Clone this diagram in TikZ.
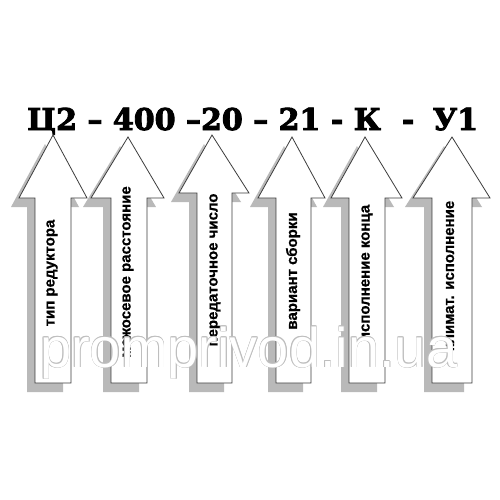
\documentclass[tikz,border=0pt]{standalone}
\usepackage{fontspec}
\setmainfont{Liberation Sans}[BoldFont={Liberation Sans Bold}, BoldFeatures={FakeBold=0.8}]
\newfontfamily\codefont{DejaVu Serif Bold}[FakeBold=3]

\definecolor{shadowgray}{RGB}{185,185,185}
\definecolor{edgegray}{RGB}{60,60,60}
\definecolor{markgray}{RGB}{190,190,190}
\pgfdeclareverticalshading{shadowfade}{100bp}{color(0bp)=(shadowgray); color(70bp)=(shadowgray); color(100bp)=(white)}

\tikzset{
  arrowbody/.style={draw=edgegray, line width=0.8pt, fill=white},
  arrowshadow/.style={shading=shadowfade, shift={(-8,9)}},
  arrowtext/.style={font=\bfseries\fontsize{15}{15}\selectfont, rotate=90, inner sep=0pt},
  codetext/.style={font=\codefont\fontsize{30}{30}\selectfont, inner sep=0pt, anchor=base west},
  marktext/.style={font=\fontsize{56}{56}\selectfont, inner sep=0pt, anchor=base west},
}

\begin{document}
\begin{tikzpicture}[x=1pt, y=-1pt]
    \useasboundingbox[fill=white] (0,0) rectangle (500,500);

    % Bezeichnung
    \node[codetext] (code) at (27,130) {Ц2 – 400 –20 – 21 - К \ - \hspace{8pt}У1};

    % Pfeil 1: тип редуктора
    \shade[arrowshadow] (35,383) -- (35,198) -- (19,198) -- (53,135) -- (87,198) -- (71,198) -- (71,383) -- cycle;
    \draw[arrowbody] (35,383) -- (35,198) -- (19,198) -- (53,135) -- (87,198) -- (71,198) -- (71,383) -- cycle;
    \node[arrowtext] (type) at (52,273) {тип редуктора};

    % Pfeil 2: межосевое расстояние
    \shade[arrowshadow] (111,383) -- (111,198) -- (91,198) -- (128,137) -- (164,198) -- (147,198) -- (147,383) -- cycle;
    \draw[arrowbody] (111,383) -- (111,198) -- (91,198) -- (128,137) -- (164,198) -- (147,198) -- (147,383) -- cycle;
    \node[arrowtext] (dist) at (128,272) {межосевое расстояние};

    % Pfeil 3: передаточное число
    \shade[arrowshadow] (197,383) -- (197,193) -- (179,193) -- (212,135) -- (249,193) -- (232,193) -- (232,383) -- cycle;
    \draw[arrowbody] (197,383) -- (197,193) -- (179,193) -- (212,135) -- (249,193) -- (232,193) -- (232,383) -- cycle;
    \node[arrowtext] (ratio) at (215,270) {передаточное число};

    % Pfeil 4: вариант сборки
    \shade[arrowshadow] (276,383) -- (276,198) -- (258,198) -- (292,137) -- (325,198) -- (311,198) -- (311,383) -- cycle;
    \draw[arrowbody] (276,383) -- (276,198) -- (258,198) -- (292,137) -- (325,198) -- (311,198) -- (311,383) -- cycle;
    \node[arrowtext] (assembly) at (293,271) {вариант сборки};

    % Pfeil 5: исполнение конца
    \shade[arrowshadow] (349,383) -- (349,198) -- (331,198) -- (365,137) -- (402,198) -- (385,198) -- (385,383) -- cycle;
    \draw[arrowbody] (349,383) -- (349,198) -- (331,198) -- (365,137) -- (402,198) -- (385,198) -- (385,383) -- cycle;
    \node[arrowtext] (shaftend) at (367,273) {исполнение конца};

    % Pfeil 6: климат. исполнение
    \shade[arrowshadow] (432,383) -- (432,198) -- (413,198) -- (452,137) -- (490,198) -- (472,198) -- (472,383) -- cycle;
    \draw[arrowbody] (432,383) -- (432,198) -- (413,198) -- (452,137) -- (490,198) -- (472,198) -- (472,383) -- cycle;
    \node[arrowtext] (climate) at (450,276) {климат. исполнение};

    % Wasserzeichen
    \foreach \dx/\dy [count=\i] in {0.7/0, -0.7/0, 0/0.7, 0/-0.7, 0.5/0.5, -0.5/0.5, 0.5/-0.5, -0.5/-0.5}
        \node[marktext, text=markgray] (mark\i) at (40+\dx,367+\dy) {promprivod.in.ua};
    \node[marktext, text=white] (mark) at (40,367) {promprivod.in.ua};
\end{tikzpicture}
\end{document}
